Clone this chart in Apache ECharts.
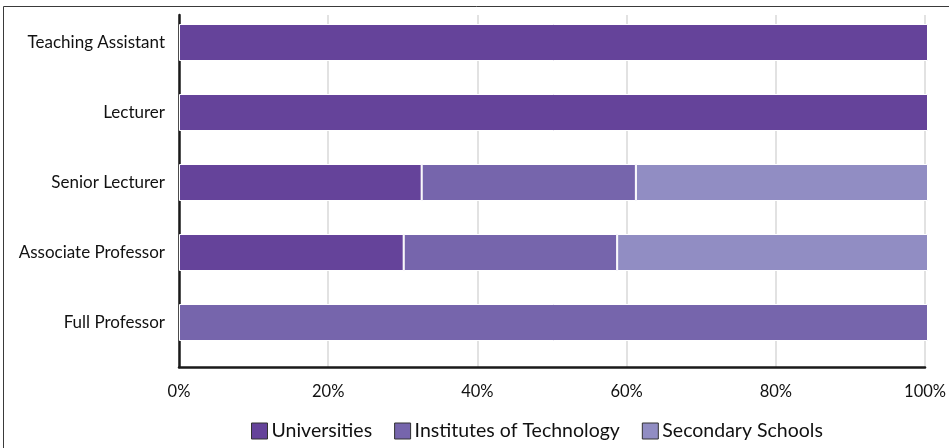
<!DOCTYPE html>
<html>
<head>
<meta charset="utf-8">
<script src="https://cdn.jsdelivr.net/npm/echarts@6/dist/echarts.min.js"></script>
<style>
  html, body { margin: 0; padding: 0; background: #fff; }
  #chart { width: 949px; height: 448px; }
</style>
</head>
<body>
<div id="chart"></div>
<script>
// Share of staff by grade, split across institution types (percent of each grade)
const categories = ['Teaching Assistant', 'Lecturer', 'Senior Lecturer', 'Associate Professor', 'Full Professor'];
const universities = [100, 100, 32.4, 30.0, 0];
const institutes = [0, 0, 28.6, 28.5, 100];
const secondary = [0, 0, 39.0, 41.5, 0];
const xTicks = [0, 20, 40, 60, 80, 100];

const FONT = 'Lato';
const colors = ['#65439a', '#7665ac', '#918dc3'];

const chart = echarts.init(document.getElementById('chart'), null, { renderer: 'canvas' });

function seriesFor(name, values, idx) {
  return {
    name: name,
    type: 'bar',
    stack: 'share',
    xAxisIndex: 1,
    yAxisIndex: 1,
    barWidth: 37,
    data: values.map(v => (v === 0 ? null : v)),
    itemStyle: { color: colors[idx], borderColor: '#ffffff', borderWidth: 1 },
    emphasis: { disabled: true }
  };
}

chart.setOption({
  animation: false,
  color: colors,
  graphic: [{
    type: 'rect',
    shape: { x: 3.5, y: 6.5, width: 1000, height: 1000 },
    style: { fill: 'none', stroke: '#3a3a3a', lineWidth: 1 },
    silent: true
  }],
  legend: {
    bottom: 2,
    left: 246,
    icon: 'rect',
    itemWidth: 16,
    itemHeight: 16,
    itemGap: 22,
    textStyle: { fontFamily: FONT, fontSize: 19.5, color: '#111', padding: [0, 0, 0, -1] },
    itemStyle: { borderColor: '#333', borderWidth: 1 },
    data: ['Universities', 'Institutes of Technology', 'Secondary Schools']
  },
  grid: [
    { left: 179, right: 21, top: 15, bottom: 81 },
    { left: 179, right: 21, top: 7.5, bottom: 90.5 }
  ],
  xAxis: [
    {
      type: 'value',
      gridIndex: 0,
      min: xTicks[0],
      max: xTicks[xTicks.length - 1],
      interval: 20,
      axisLine: { show: true, lineStyle: { color: '#1a1a1a', width: 2.5 } },
      axisTick: { show: false },
      splitLine: { show: true, lineStyle: { color: '#d9d9d9', width: 1.5 } },
      axisLabel: { formatter: '{value}%', margin: 16, fontFamily: FONT, fontSize: 16.5, color: '#111' }
    },
    {
      type: 'value',
      gridIndex: 1,
      min: 0,
      max: 100,
      show: false
    }
  ],
  yAxis: [
    {
      type: 'value',
      gridIndex: 0,
      min: 0,
      max: 1,
      axisLine: { show: true, lineStyle: { color: '#1a1a1a', width: 2.5 } },
      axisTick: { show: false },
      axisLabel: { show: false },
      splitLine: { show: false }
    },
    {
      type: 'category',
      gridIndex: 1,
      inverse: true,
      data: categories,
      axisLine: { show: false },
      axisTick: { show: false },
      splitLine: { show: false },
      axisLabel: { margin: 14, fontFamily: FONT, fontSize: 17, color: '#111' }
    }
  ],
  series: [
    seriesFor('Universities', universities, 0),
    seriesFor('Institutes of Technology', institutes, 1),
    seriesFor('Secondary Schools', secondary, 2)
  ]
});
</script>
</body>
</html>
